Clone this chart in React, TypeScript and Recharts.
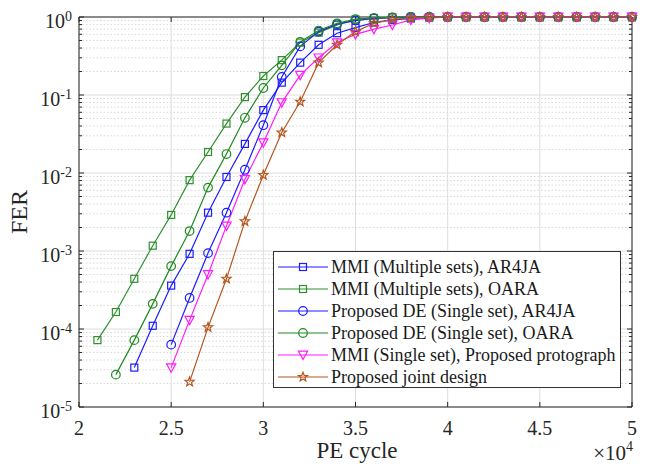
import React from "react";
import {
  LineChart,
  Line,
  XAxis,
  YAxis,
  CartesianGrid,
  ReferenceLine,
  ReferenceArea,
  Label,
} from "recharts";

// PE cycles (x axis), read every 0.1 x 10^4
const peCycles = [
  21000, 22000, 23000, 24000, 25000, 26000, 27000, 28000, 29000, 30000,
  31000, 32000, 33000, 34000, 35000, 36000, 37000, 38000, 39000, 40000,
  41000, 42000, 43000, 44000, 45000, 46000, 47000, 48000, 49000, 50000,
];

// FER per series, aligned with peCycles (null = not simulated)
const mmiMultiAr4ja = [
  null, null, 3.2e-5, 1.1e-4, 3.6e-4, 9.2e-4, 3.1e-3, 8.9e-3, 0.0236, 0.064,
  0.144, 0.26, 0.44, 0.62, 0.73, 0.85, 0.92, 0.96, 0.99, 1,
  1, 1, 1, 1, 1, 1, 1, 1, 1, 1,
];
const mmiMultiOara = [
  7.2e-5, 1.65e-4, 4.4e-4, 1.17e-3, 2.9e-3, 8.1e-3, 0.0186, 0.043, 0.094, 0.175,
  0.28, 0.47, 0.63, 0.79, 0.93, 0.97, 0.99, 1, 1, 1,
  1, 1, 1, 1, 1, 1, 1, 1, 1, 1,
];
const deAr4ja = [
  null, null, null, null, 6.3e-5, 2.5e-4, 9.4e-4, 3.1e-3, 0.011, 0.041,
  0.17, 0.42, 0.65, 0.81, 0.9, 0.96, 0.98, 1, 1, 1,
  1, 1, 1, 1, 1, 1, 1, 1, 1, 1,
];
const deOara = [
  null, 2.6e-5, 7.2e-5, 2.1e-4, 6.4e-4, 1.8e-3, 6.5e-3, 0.0175, 0.051, 0.123,
  0.24, 0.48, 0.67, 0.83, 0.94, 0.97, 0.99, 1, 1, 1,
  1, 1, 1, 1, 1, 1, 1, 1, 1, 1,
];
const mmiSingleProto = [
  null, null, null, null, 3.2e-5, 1.3e-4, 5e-4, 2.1e-3, 8.3e-3, 0.0245,
  0.08, 0.18, 0.3, 0.47, 0.6, 0.7, 0.79, 0.92, 0.97, 1,
  1, 1, 1, 1, 1, 1, 1, 1, 1, 1,
];
const jointDesign = [
  null, null, null, null, null, 2.1e-5, 1.05e-4, 4.4e-4, 2.4e-3, 9.4e-3,
  0.033, 0.082, 0.26, 0.44, 0.65, 0.83, 0.93, 0.97, 0.99, 1,
  1, 1, 1, 1, 1, 1, 1, 1, 1, 1,
];

const xTicks = [20000, 25000, 30000, 35000, 40000, 45000, 50000];
const yTicks = [1e-5, 1e-4, 1e-3, 1e-2, 1e-1, 1];

type MarkerKind = "square" | "circle" | "triangle" | "star";

const SERIES: {
  key: string;
  name: string;
  color: string;
  marker: MarkerKind;
  values: (number | null)[];
}[] = [
  { key: "mmiMultiAr4ja", name: "MMI (Multiple sets), AR4JA", color: "#1c1cff", marker: "square", values: mmiMultiAr4ja },
  { key: "mmiMultiOara", name: "MMI (Multiple sets), OARA", color: "#2f8f2f", marker: "square", values: mmiMultiOara },
  { key: "deAr4ja", name: "Proposed DE (Single set), AR4JA", color: "#1c1cff", marker: "circle", values: deAr4ja },
  { key: "deOara", name: "Proposed DE (Single set), OARA", color: "#1f8a1f", marker: "circle", values: deOara },
  { key: "mmiSingleProto", name: "MMI (Single set), Proposed protograph", color: "#ff1aff", marker: "triangle", values: mmiSingleProto },
  { key: "jointDesign", name: "Proposed joint design", color: "#b4561e", marker: "star", values: jointDesign },
];

const data = peCycles.map((pe, i) => {
  const row: Record<string, number | null> = { pe };
  SERIES.forEach((s) => {
    row[s.key] = s.values[i];
  });
  return row;
});

// minor log grid values 2..9 x 10^k
const minorValues: number[] = [];
for (let k = -5; k < 0; k++) {
  for (let m = 2; m <= 9; m++) minorValues.push(m * Math.pow(10, k));
}

const FONT = "Liberation Serif";
const TEXT = "#262626";

function starPoints(cx: number, cy: number, R: number, r: number) {
  const pts: string[] = [];
  for (let i = 0; i < 10; i++) {
    const a = -Math.PI / 2 + (i * Math.PI) / 5;
    const rad = i % 2 === 0 ? R : r;
    pts.push(`${cx + rad * Math.cos(a)},${cy + rad * Math.sin(a)}`);
  }
  return pts.join(" ");
}

function MarkerShape({ kind, cx, cy, color }: { kind: MarkerKind; cx: number; cy: number; color: string }) {
  const common = { fill: "none", stroke: color, strokeWidth: 1.2 };
  if (kind === "square") return <rect x={cx - 3.5} y={cy - 3.5} width={7} height={7} {...common} />;
  if (kind === "circle") return <circle cx={cx} cy={cy} r={4.3} {...common} />;
  if (kind === "triangle")
    return <polygon points={`${cx - 4.6},${cy - 3.8} ${cx + 4.6},${cy - 3.8} ${cx},${cy + 4.6}`} {...common} />;
  return <polygon points={starPoints(cx, cy, 4.8, 2)} {...common} />;
}

const XTick = ({ x, y, payload }: any) => (
  <text x={x} y={y + 28} textAnchor="middle" fontFamily={FONT} fontSize={20} fill={TEXT}>
    {payload.value / 10000}
  </text>
);

const YTick = ({ x, y, payload }: any) => {
  const exp = Math.round(Math.log10(payload.value));
  return (
    <text x={x - 7} y={y + 11} textAnchor="end" fontFamily={FONT} fontSize={20} fill={TEXT}>
      10
      <tspan dy={-7} fontSize={14}>
        {exp}
      </tspan>
    </text>
  );
};

function Legendbox() {
  return (
    <div
      style={{
        position: "absolute",
        left: 273,
        top: 251,
        width: 348,
        height: 137,
        border: "1px solid #333",
        background: "#fff",
        boxSizing: "border-box",
        paddingTop: 4,
      }}
    >
      {SERIES.map((s) => (
        <div key={s.key} style={{ display: "flex", alignItems: "center", height: 22 }}>
          <svg width={52} height={22} style={{ marginLeft: 3, flex: "none" }}>
            <line x1={1} y1={11} x2={51} y2={11} stroke={s.color} strokeWidth={1.2} />
            <MarkerShape kind={s.marker} cx={26} cy={11} color={s.color} />
          </svg>
          <span
            style={{
              fontFamily: FONT,
              fontSize: 18,
              color: "#1a1a1a",
              marginLeft: 2,
              whiteSpace: "nowrap",
              lineHeight: "22px",
            }}
          >
            {s.name}
          </span>
        </div>
      ))}
    </div>
  );
}

export default function App() {
  const xTickLen = 270; // ~5px in x units
  return (
    <div style={{ position: "absolute", left: 0, top: 0, width: 646, height: 467, background: "#fff" }}>
      <LineChart width={646} height={467} data={data} margin={{ top: 17, right: 14, bottom: 30, left: 0 }}>
        <CartesianGrid stroke="#dedede" strokeWidth={1} />
        {minorValues.map((v) => (
          <ReferenceLine key={`mg-${v}`} y={v} stroke="#d9d9d9" strokeDasharray="1.5 2" />
        ))}
        <XAxis
          type="number"
          dataKey="pe"
          domain={[20000, 50000]}
          ticks={xTicks}
          tick={<XTick />}
          tickLine={false}
          axisLine={false}
          tickSize={0}
          tickMargin={0}
          height={30}
          interval={0}
        >
          <Label
            content={() => (
              <g>
                <text x={357} y={458} textAnchor="middle" fontFamily={FONT} fontSize={23} fill={TEXT}>
                  PE cycle
                </text>
                <text x={633} y={460} textAnchor="end" fontFamily={FONT} fontSize={21} fill={TEXT}>
                  ×10
                  <tspan dy={-9} fontSize={14}>
                    4
                  </tspan>
                </text>
              </g>
            )}
          />
        </XAxis>
        <YAxis
          type="number"
          scale="log"
          domain={[1e-5, 1]}
          ticks={yTicks}
          tick={<YTick />}
          tickLine={false}
          axisLine={false}
          tickSize={0}
          tickMargin={0}
          width={79}
          interval={0}
        >
          <Label
            content={() => (
              <text
                x={27}
                y={212}
                textAnchor="middle"
                transform="rotate(-90, 27, 212)"
                fontFamily={FONT}
                fontSize={24}
                fill={TEXT}
              >
                FER
              </text>
            )}
          />
        </YAxis>
        {/* inner tick marks */}
        {yTicks.map((v) => (
          <ReferenceLine key={`ytl-${v}`} segment={[{ x: 20000, y: v }, { x: 20000 + xTickLen, y: v }]} stroke="#262626" />
        ))}
        {yTicks.map((v) => (
          <ReferenceLine key={`ytr-${v}`} segment={[{ x: 50000 - xTickLen, y: v }, { x: 50000, y: v }]} stroke="#262626" />
        ))}
        {minorValues.map((v) => (
          <ReferenceLine key={`mtl-${v}`} segment={[{ x: 20000, y: v }, { x: 20000 + xTickLen * 0.6, y: v }]} stroke="#262626" />
        ))}
        {minorValues.map((v) => (
          <ReferenceLine key={`mtr-${v}`} segment={[{ x: 50000 - xTickLen * 0.6, y: v }, { x: 50000, y: v }]} stroke="#262626" />
        ))}
        {xTicks.map((v) => (
          <ReferenceLine key={`xtb-${v}`} segment={[{ x: v, y: 1e-5 }, { x: v, y: 1.16e-5 }]} stroke="#262626" />
        ))}
        {xTicks.map((v) => (
          <ReferenceLine key={`xtt-${v}`} segment={[{ x: v, y: 1 }, { x: v, y: 0.862 }]} stroke="#262626" />
        ))}
        <ReferenceArea x1={20000} x2={50000} y1={1e-5} y2={1} fill="none" stroke="#262626" strokeWidth={1} />
        {SERIES.map((s) => (
          <Line
            key={s.key}
            type="linear"
            dataKey={s.key}
            name={s.name}
            stroke={s.color}
            strokeWidth={1.2}
            isAnimationActive={false}
            connectNulls={false}
            dot={(p: any) => (
              <g key={`${s.key}-${p.index}`}>
                {p.cx != null && p.cy != null && p.value != null ? (
                  <MarkerShape kind={s.marker} cx={p.cx} cy={p.cy} color={s.color} />
                ) : null}
              </g>
            )}
            activeDot={false}
          />
        ))}
      </LineChart>
      <Legendbox />
    </div>
  );
}
